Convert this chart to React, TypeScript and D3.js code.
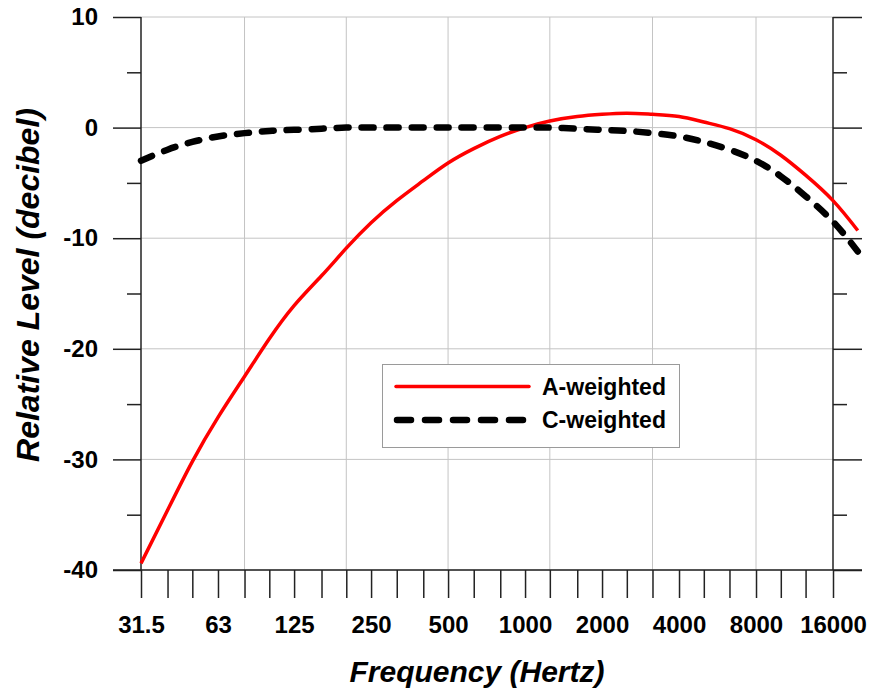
import { useEffect, useRef } from "react";
import * as d3 from "d3";

// third-octave band centres (Hz), 31.5 .. 20000
const bands = [
  31.5, 40, 50, 63, 80, 100, 125, 160, 200, 250, 315, 400, 500, 630, 800, 1000,
  1250, 1600, 2000, 2500, 3150, 4000, 5000, 6300, 8000, 10000, 12500, 16000, 20000,
];

const aWeighted = [
  -39.4, -34.6, -30.2, -26.2, -22.5, -19.1, -16.1, -13.4, -10.9, -8.6, -6.6, -4.8, -3.2,
  -1.9, -0.8, 0, 0.6, 1.0, 1.2, 1.3, 1.2, 1.0, 0.5, -0.1, -1.1, -2.5, -4.3, -6.6, -9.3,
];

const cWeighted = [
  -3.0, -2.0, -1.3, -0.8, -0.5, -0.3, -0.2, -0.1, 0, 0, 0, 0, 0,
  0, 0, 0, 0, -0.1, -0.2, -0.3, -0.5, -0.8, -1.3, -2.0, -3.0, -4.4, -6.2, -8.5, -11.2,
];

const xLabels = ["31.5", "63", "125", "250", "500", "1000", "2000", "4000", "8000", "16000"];
const xGrid = [80, 200, 500, 1250, 3150, 8000];
const yMajor = [-40, -30, -20, -10, 0, 10];
const yMinor = [-35, -25, -15, -5, 5];

const FONT = "'Liberation Sans', Arial, sans-serif";

export default function App() {
  const ref = useRef<SVGSVGElement>(null);

  useEffect(() => {
    const width = 870;
    const height = 689;
    const left = 141;
    const right = 833;
    const top = 17;
    const bottom = 570;

    const svg = d3.select(ref.current);
    svg.selectAll("*").remove();

    const x = d3.scaleLog().domain([31.5, 16000]).range([left, right]);
    const y = d3.scaleLinear().domain([-40, 10]).range([bottom, top]);

    const grid = svg.append("g").attr("stroke", "#c4c4c4").attr("stroke-width", 1);
    grid
      .selectAll("line.h")
      .data(yMajor)
      .join("line")
      .attr("x1", left)
      .attr("x2", right)
      .attr("y1", (d) => y(d))
      .attr("y2", (d) => y(d));
    grid
      .selectAll("line.v")
      .data(xGrid)
      .join("line")
      .attr("x1", (d) => x(d))
      .attr("x2", (d) => x(d))
      .attr("y1", top)
      .attr("y2", bottom);

    const axisColor = "#222";

    // left axis
    svg
      .append("g")
      .attr("transform", `translate(${left},0)`)
      .call(d3.axisLeft(y).tickValues(yMajor).tickSize(28).tickPadding(15).tickFormat((d) => String(d)))
      .call((g) => g.select(".domain").remove())
      .call((g) => g.selectAll("line").attr("stroke", axisColor).attr("stroke-width", 1.5))
      .call((g) =>
        g
          .selectAll("text")
          .attr("fill", "#000")
          .attr("font-family", FONT)
          .attr("font-weight", "bold")
          .attr("font-size", 24),
      );
    svg
      .append("g")
      .attr("transform", `translate(${left},0)`)
      .call(d3.axisLeft(y).tickValues(yMinor).tickSize(14).tickFormat(() => ""))
      .call((g) => g.select(".domain").remove())
      .call((g) => g.selectAll("line").attr("stroke", axisColor).attr("stroke-width", 1.5));

    // right axis
    svg
      .append("g")
      .attr("transform", `translate(${right},0)`)
      .call(d3.axisRight(y).tickValues(yMajor).tickSize(29).tickFormat(() => ""))
      .call((g) => g.select(".domain").remove())
      .call((g) => g.selectAll("line").attr("stroke", axisColor).attr("stroke-width", 1.5));
    svg
      .append("g")
      .attr("transform", `translate(${right},0)`)
      .call(d3.axisRight(y).tickValues(yMinor).tickSize(14).tickFormat(() => ""))
      .call((g) => g.select(".domain").remove())
      .call((g) => g.selectAll("line").attr("stroke", axisColor).attr("stroke-width", 1.5));

    // vertical axis lines
    [left, right].forEach((px) =>
      svg
        .append("line")
        .attr("x1", px)
        .attr("x2", px)
        .attr("y1", top)
        .attr("y2", bottom)
        .attr("stroke", axisColor)
        .attr("stroke-width", 1.5),
    );

    // bottom axis
    svg
      .append("g")
      .attr("transform", `translate(0,${bottom})`)
      .call(
        d3
          .axisBottom(x)
          .tickValues(bands.filter((b) => b <= 16000))
          .tickSize(28)
          .tickPadding(18)
          .tickFormat((d) => {
            const s = String(d);
            return xLabels.includes(s) ? s : "";
          }),
      )
      .call((g) => g.select(".domain").remove())
      .call((g) => g.selectAll("line").attr("stroke", axisColor).attr("stroke-width", 1.5))
      .call((g) =>
        g
          .selectAll("text")
          .attr("fill", "#000")
          .attr("font-family", FONT)
          .attr("font-weight", "bold")
          .attr("font-size", 24),
      );
    svg
      .append("line")
      .attr("x1", 113)
      .attr("x2", 862)
      .attr("y1", bottom)
      .attr("y2", bottom)
      .attr("stroke", axisColor)
      .attr("stroke-width", 1.5);

    // curves
    const line = (vals: number[]) =>
      d3
        .line<number>()
        .x((_, i) => x(bands[i]))
        .y((d) => y(d))
        .curve(d3.curveNatural)(vals);

    svg
      .append("path")
      .attr("d", line(aWeighted))
      .attr("fill", "none")
      .attr("stroke", "#ff0000")
      .attr("stroke-width", 3.5);

    svg
      .append("path")
      .attr("d", line(cWeighted))
      .attr("fill", "none")
      .attr("stroke", "#000")
      .attr("stroke-width", 6.5)
      .attr("stroke-linecap", "round")
      .attr("stroke-dasharray", "12 13");

    // legend
    const lg = svg.append("g");
    lg.append("rect")
      .attr("x", 382.5)
      .attr("y", 364.5)
      .attr("width", 297)
      .attr("height", 83)
      .attr("fill", "#fff")
      .attr("stroke", "#9a9a9a")
      .attr("stroke-width", 1);
    lg.append("line")
      .attr("x1", 396)
      .attr("x2", 529)
      .attr("y1", 386.5)
      .attr("y2", 386.5)
      .attr("stroke", "#ff0000")
      .attr("stroke-width", 3.5)
      .attr("stroke-linecap", "round");
    lg.append("line")
      .attr("x1", 397)
      .attr("x2", 524)
      .attr("y1", 420)
      .attr("y2", 420)
      .attr("stroke", "#000")
      .attr("stroke-width", 6.5)
      .attr("stroke-linecap", "round")
      .attr("stroke-dasharray", "14 14");
    [
      ["A-weighted", 395],
      ["C-weighted", 428],
    ].forEach(([t, ty]) =>
      lg
        .append("text")
        .attr("x", 542)
        .attr("y", ty as number)
        .attr("font-family", FONT)
        .attr("font-weight", "bold")
        .attr("font-size", 23)
        .attr("fill", "#000")
        .text(t as string),
    );

    // axis titles
    svg
      .append("text")
      .attr("x", 477)
      .attr("y", 682)
      .attr("text-anchor", "middle")
      .attr("font-family", FONT)
      .attr("font-weight", "bold")
      .attr("font-style", "italic")
      .attr("font-size", 30)
      .text("Frequency (Hertz)");

    svg
      .append("text")
      .attr("transform", `translate(39,285) rotate(-90)`)
      .attr("text-anchor", "middle")
      .attr("font-family", FONT)
      .attr("font-weight", "bold")
      .attr("font-style", "italic")
      .attr("font-size", 32)
      .text("Relative Level (decibel)");

    svg.attr("width", width).attr("height", height);
  }, []);

  return (
    <div style={{ position: "absolute", left: 0, top: 0 }}>
      <svg ref={ref} style={{ display: "block", background: "#fff" }} />
    </div>
  );
}
